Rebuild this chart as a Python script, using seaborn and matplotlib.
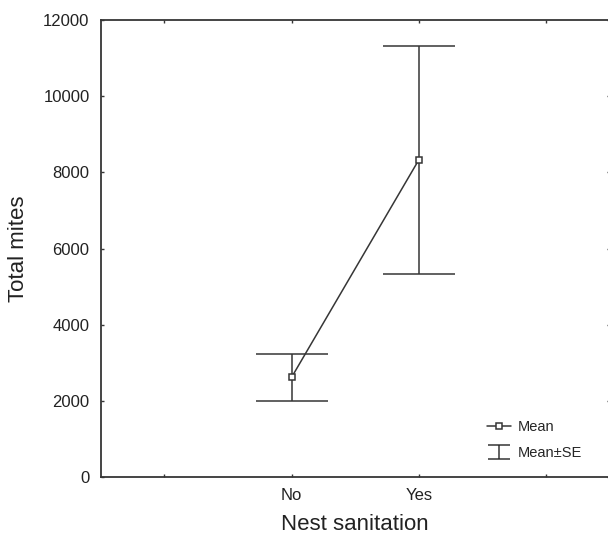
import pandas as pd
import matplotlib
matplotlib.use("Agg")
import matplotlib.pyplot as plt
from matplotlib.lines import Line2D
from matplotlib.path import Path
import seaborn as sns

# Values (mean and standard error per group)
groups = ["No", "Yes"]
mean_mites = [2615, 8325]
se_mites = [610, 2995]

y_ticks = [0, 2000, 4000, 6000, 8000, 10000, 12000]
x_ticks = [-1, 0, 1, 2]
x_tick_labels = ["", "No", "Yes", ""]

INK = "#363636"


def ibeam_marker():
    # "I" shaped marker for the Mean±SE legend entry
    verts = [(-1, 0.6), (1, 0.6), (0, 0.6), (0, -0.6), (-1, -0.6), (1, -0.6)]
    codes = [Path.MOVETO, Path.LINETO, Path.MOVETO, Path.LINETO,
             Path.MOVETO, Path.LINETO]
    return Path(verts, codes)


def plot_data(data):
    fig = plt.figure(figsize=(6.08, 5.34), dpi=100)
    ax = fig.add_axes([0.1656, 0.1067, 0.837, 0.8558])

    sns.pointplot(data=data, x="sanitation", y="mites", order=groups,
                  errorbar=None, color=INK, markers="s", linestyles="-",
                  markersize=5, markerfacecolor="white",
                  markeredgecolor=INK, markeredgewidth=1.1,
                  linewidth=1.1, ax=ax)
    ax.errorbar(range(len(groups)), data["mites"], yerr=data["se"],
                fmt="none", ecolor=INK, elinewidth=1.1, capsize=25.6,
                capthick=1.1, zorder=1)

    ax.set_xlim(-1.5, 2.5)
    ax.set_ylim(0, 12000)
    ax.set_xticks(x_ticks)
    ax.set_xticklabels(x_tick_labels)
    ax.set_yticks(y_ticks)
    ax.tick_params(direction="in", top=True, right=True, length=2.5,
                   width=1.0, color=INK, labelsize=12, labelcolor="#222222",
                   pad=8)
    for side in ax.spines.values():
        side.set_color(INK)
        side.set_linewidth(1.3)

    ax.set_xlabel("Nest sanitation", fontsize=16, color="#222222", labelpad=8)
    ax.set_ylabel("Total mites", fontsize=16, color="#222222", labelpad=10)

    handles = [
        Line2D([], [], color=INK, lw=1.1, marker="s", markersize=5,
               markerfacecolor="white", markeredgecolor=INK,
               markeredgewidth=1.1),
        Line2D([], [], linestyle="none", marker=ibeam_marker(),
               markersize=16, markerfacecolor="none", markeredgecolor=INK,
               markeredgewidth=1.1),
    ]
    ax.legend(handles, ["Mean", "Mean±SE"], loc="lower left",
              bbox_to_anchor=(0.76, 0.038), frameon=False, fontsize=10.5,
              handlelength=1.6, handletextpad=0.45, labelspacing=0.8,
              borderpad=0, borderaxespad=0, numpoints=1)

    fig.savefig("out.png", dpi=100)


def main():
    sns.set_style("ticks")
    plt.rcParams["font.family"] = ["Liberation Sans", "DejaVu Sans"]
    data = pd.DataFrame({"sanitation": groups, "mites": mean_mites,
                         "se": se_mites})
    plot_data(data)


if __name__ == "__main__":
    main()
